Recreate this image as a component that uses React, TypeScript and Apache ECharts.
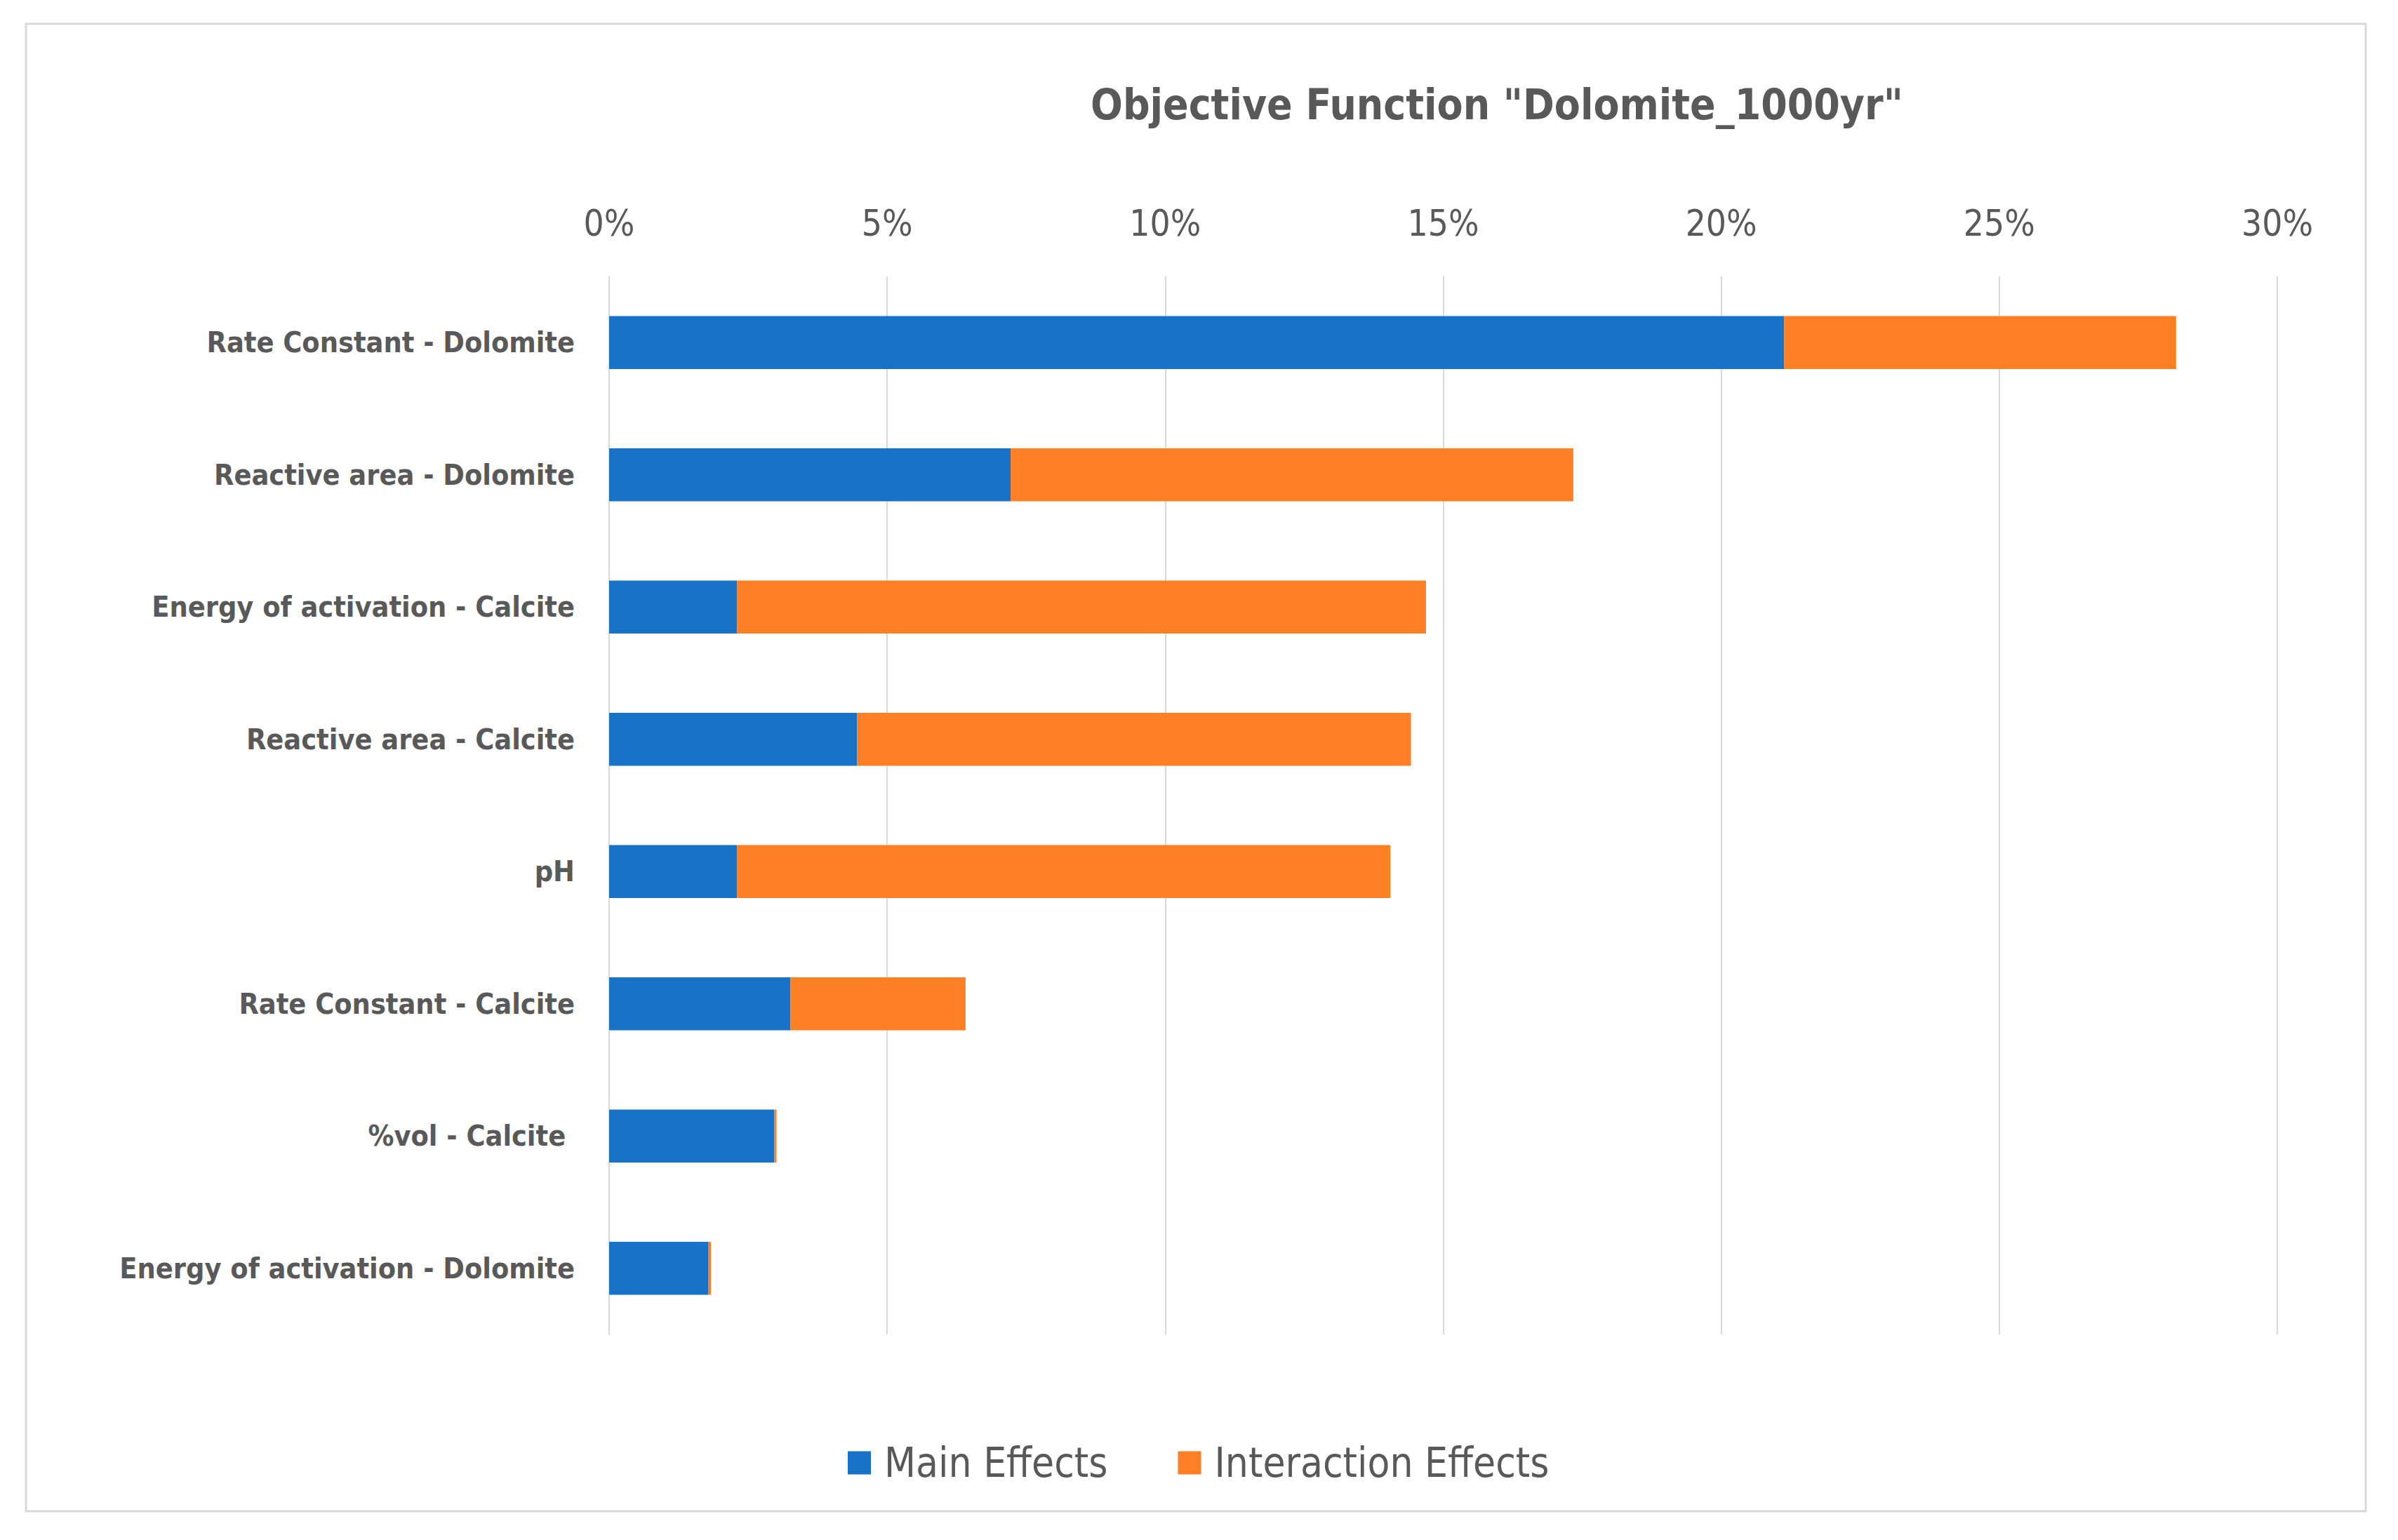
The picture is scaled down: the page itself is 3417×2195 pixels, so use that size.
import React, { useEffect, useRef } from "react";
import * as echarts from "echarts";

const categories = [
  "Rate Constant - Dolomite",
  "Reactive area - Dolomite",
  "Energy of activation - Calcite",
  "Reactive area - Calcite",
  "pH",
  "Rate Constant - Calcite",
  "%vol - Calcite ",
  "Energy of activation - Dolomite",
];
const mainEffects = [21.13, 7.22, 2.3, 4.46, 2.3, 3.26, 2.97, 1.78];
const interactionEffects = [7.05, 10.12, 12.39, 9.96, 11.75, 3.15, 0.04, 0.05];
const seriesNames = ["Main Effects", "Interaction Effects"];
const titleText = 'Objective Function "Dolomite_1000yr"';

const FONT = "'Liberation Sans Narrow', 'DejaVu Sans Condensed', 'Open Sans', sans-serif";
const TEXT = "#595959";

export default function App() {
  const ref = useRef<HTMLDivElement>(null);
  useEffect(() => {
    if (!ref.current) return;
    const chart = echarts.init(ref.current, null, { renderer: "svg" });
    chart.setOption({
      animation: false,
      backgroundColor: "#ffffff",
      textStyle: { fontFamily: FONT },
      title: {
        text: titleText,
        left: 1549,
        top: 114,
        textStyle: { fontFamily: FONT, fontSize: 60, fontWeight: "bold", color: TEXT },
      },
      graphic: [
        {
          type: "rect",
          shape: { x: 37, y: 34, width: 3334, height: 2120 },
          style: { fill: "none", stroke: "#d9d9d9", lineWidth: 3 },
          silent: true,
        },
      ],
      legend: {
        left: 1203,
        top: 2051,
        itemWidth: 33,
        itemHeight: 33,
        itemGap: 100,
        icon: "rect",
        data: seriesNames,
        textStyle: { fontFamily: FONT, fontSize: 58, color: TEXT, padding: [0, 0, 0, 14] },
      },
      grid: { left: 868, right: 172, top: 394, bottom: 293, containLabel: false },
      xAxis: {
        type: "value",
        position: "top",
        min: 0,
        max: 30,
        interval: 5,
        axisLine: { show: false },
        axisTick: { show: false },
        axisLabel: { formatter: "{value}%", fontFamily: FONT, fontSize: 51, color: TEXT, margin: 50 },
        splitLine: { show: true, lineStyle: { color: "#d9d9d9", width: 2 } },
      },
      yAxis: {
        type: "category",
        inverse: true,
        data: categories,
        axisLine: { show: true, lineStyle: { color: "#d9d9d9", width: 2 } },
        axisTick: { show: false },
        axisLabel: { fontFamily: FONT, fontSize: 41, fontWeight: "bold", color: TEXT, margin: 49 },
      },
      series: [
        {
          name: seriesNames[0],
          type: "bar",
          stack: "total",
          data: mainEffects,
          barCategoryGap: "60%",
          itemStyle: { color: "#1772C8" },
        },
        {
          name: seriesNames[1],
          type: "bar",
          stack: "total",
          data: interactionEffects,
          barCategoryGap: "60%",
          itemStyle: { color: "#FE7F24" },
        },
      ],
    });
    return () => chart.dispose();
  }, []);
  return (
    <div
      ref={ref}
      style={{ position: "fixed", left: 0, top: 0, width: 3417, height: 2195, background: "#fff" }}
    />
  );
}
